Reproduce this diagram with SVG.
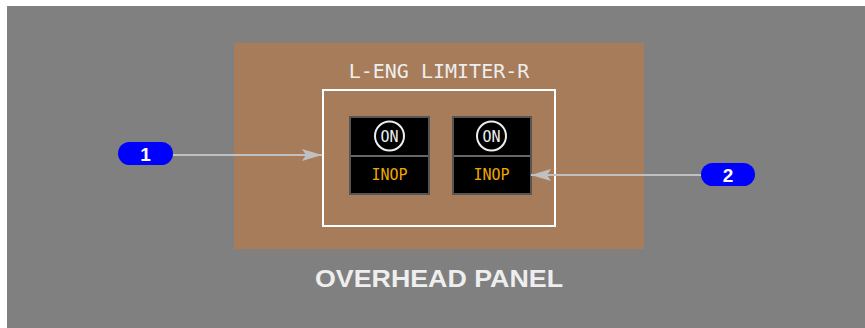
<svg xmlns="http://www.w3.org/2000/svg" width="865" height="328" viewBox="0 0 865 328">
<defs>
<marker id="arr" markerWidth="20" markerHeight="12" refX="20" refY="6" orient="auto" markerUnits="userSpaceOnUse">
<path d="M0,0 L20,6 L0,12 L4,6 Z" fill="#c0c0c0"/>
</marker>
<style>
.mono{font-family:"DejaVu Sans Mono",monospace}
.sw{fill:#000;stroke:#555;stroke-width:2}
.div{stroke:#666;stroke-width:2}
.on{fill:none;stroke:#eee;stroke-width:2}
.ontx{fill:#eee;font-size:15px;text-anchor:middle}
.inop{fill:#f0a800;font-size:15px;text-anchor:middle}
.badge{fill:#0000ff}
.btx{fill:#fff;font-family:"Liberation Sans",Arial,sans-serif;font-weight:bold;font-size:19px;text-anchor:middle}
.conn{stroke:#c0c0c0;stroke-width:2;fill:none}
</style>
</defs>
<rect x="0" y="0" width="865" height="328" fill="#fff"/>
<rect x="7" y="6" width="858" height="322" fill="#808080"/>
<g id="panel">
<rect x="234" y="43" width="410" height="206" fill="#a67c5a"/>
<text x="439" y="78" class="mono" font-size="20" fill="#eee" text-anchor="middle">L-ENG LIMITER-R</text>
<rect x="323" y="90" width="232" height="136" fill="none" stroke="#fff" stroke-width="2"/>
<text x="439" y="287" font-family="'Liberation Sans',Arial,sans-serif" font-weight="bold" font-size="24" fill="#eee" text-anchor="middle" textLength="248" lengthAdjust="spacingAndGlyphs">OVERHEAD PANEL</text>
</g>
<g id="switch1">
<rect class="sw" x="350" y="117" width="79" height="77"/>
<line class="div" x1="351" y1="156" x2="428" y2="156"/>
<circle class="on" cx="389.5" cy="136" r="14.5"/>
<text class="mono ontx" x="389.5" y="141.5">ON</text>
<text class="mono inop" x="389.5" y="180">INOP</text>
</g>
<g id="switch2">
<rect class="sw" x="453" y="117" width="78" height="77"/>
<line class="div" x1="454" y1="156" x2="530" y2="156"/>
<circle class="on" cx="491.5" cy="136" r="14.5"/>
<text class="mono ontx" x="491.5" y="141.5">ON</text>
<text class="mono inop" x="491.5" y="180">INOP</text>
</g>
<g id="connectors">
<line class="conn" x1="173" y1="155" x2="322" y2="155" marker-end="url(#arr)"/>
<line class="conn" x1="701" y1="175" x2="531" y2="175" marker-end="url(#arr)"/>
</g>
<g id="badge1">
<rect class="badge" x="118" y="142" width="55" height="23" rx="11.5"/>
<text class="btx" x="145.5" y="160.5">1</text>
</g>
<g id="badge2">
<rect class="badge" x="701" y="163" width="54" height="23" rx="11.5"/>
<text class="btx" x="728" y="181.5">2</text>
</g>
</svg>
